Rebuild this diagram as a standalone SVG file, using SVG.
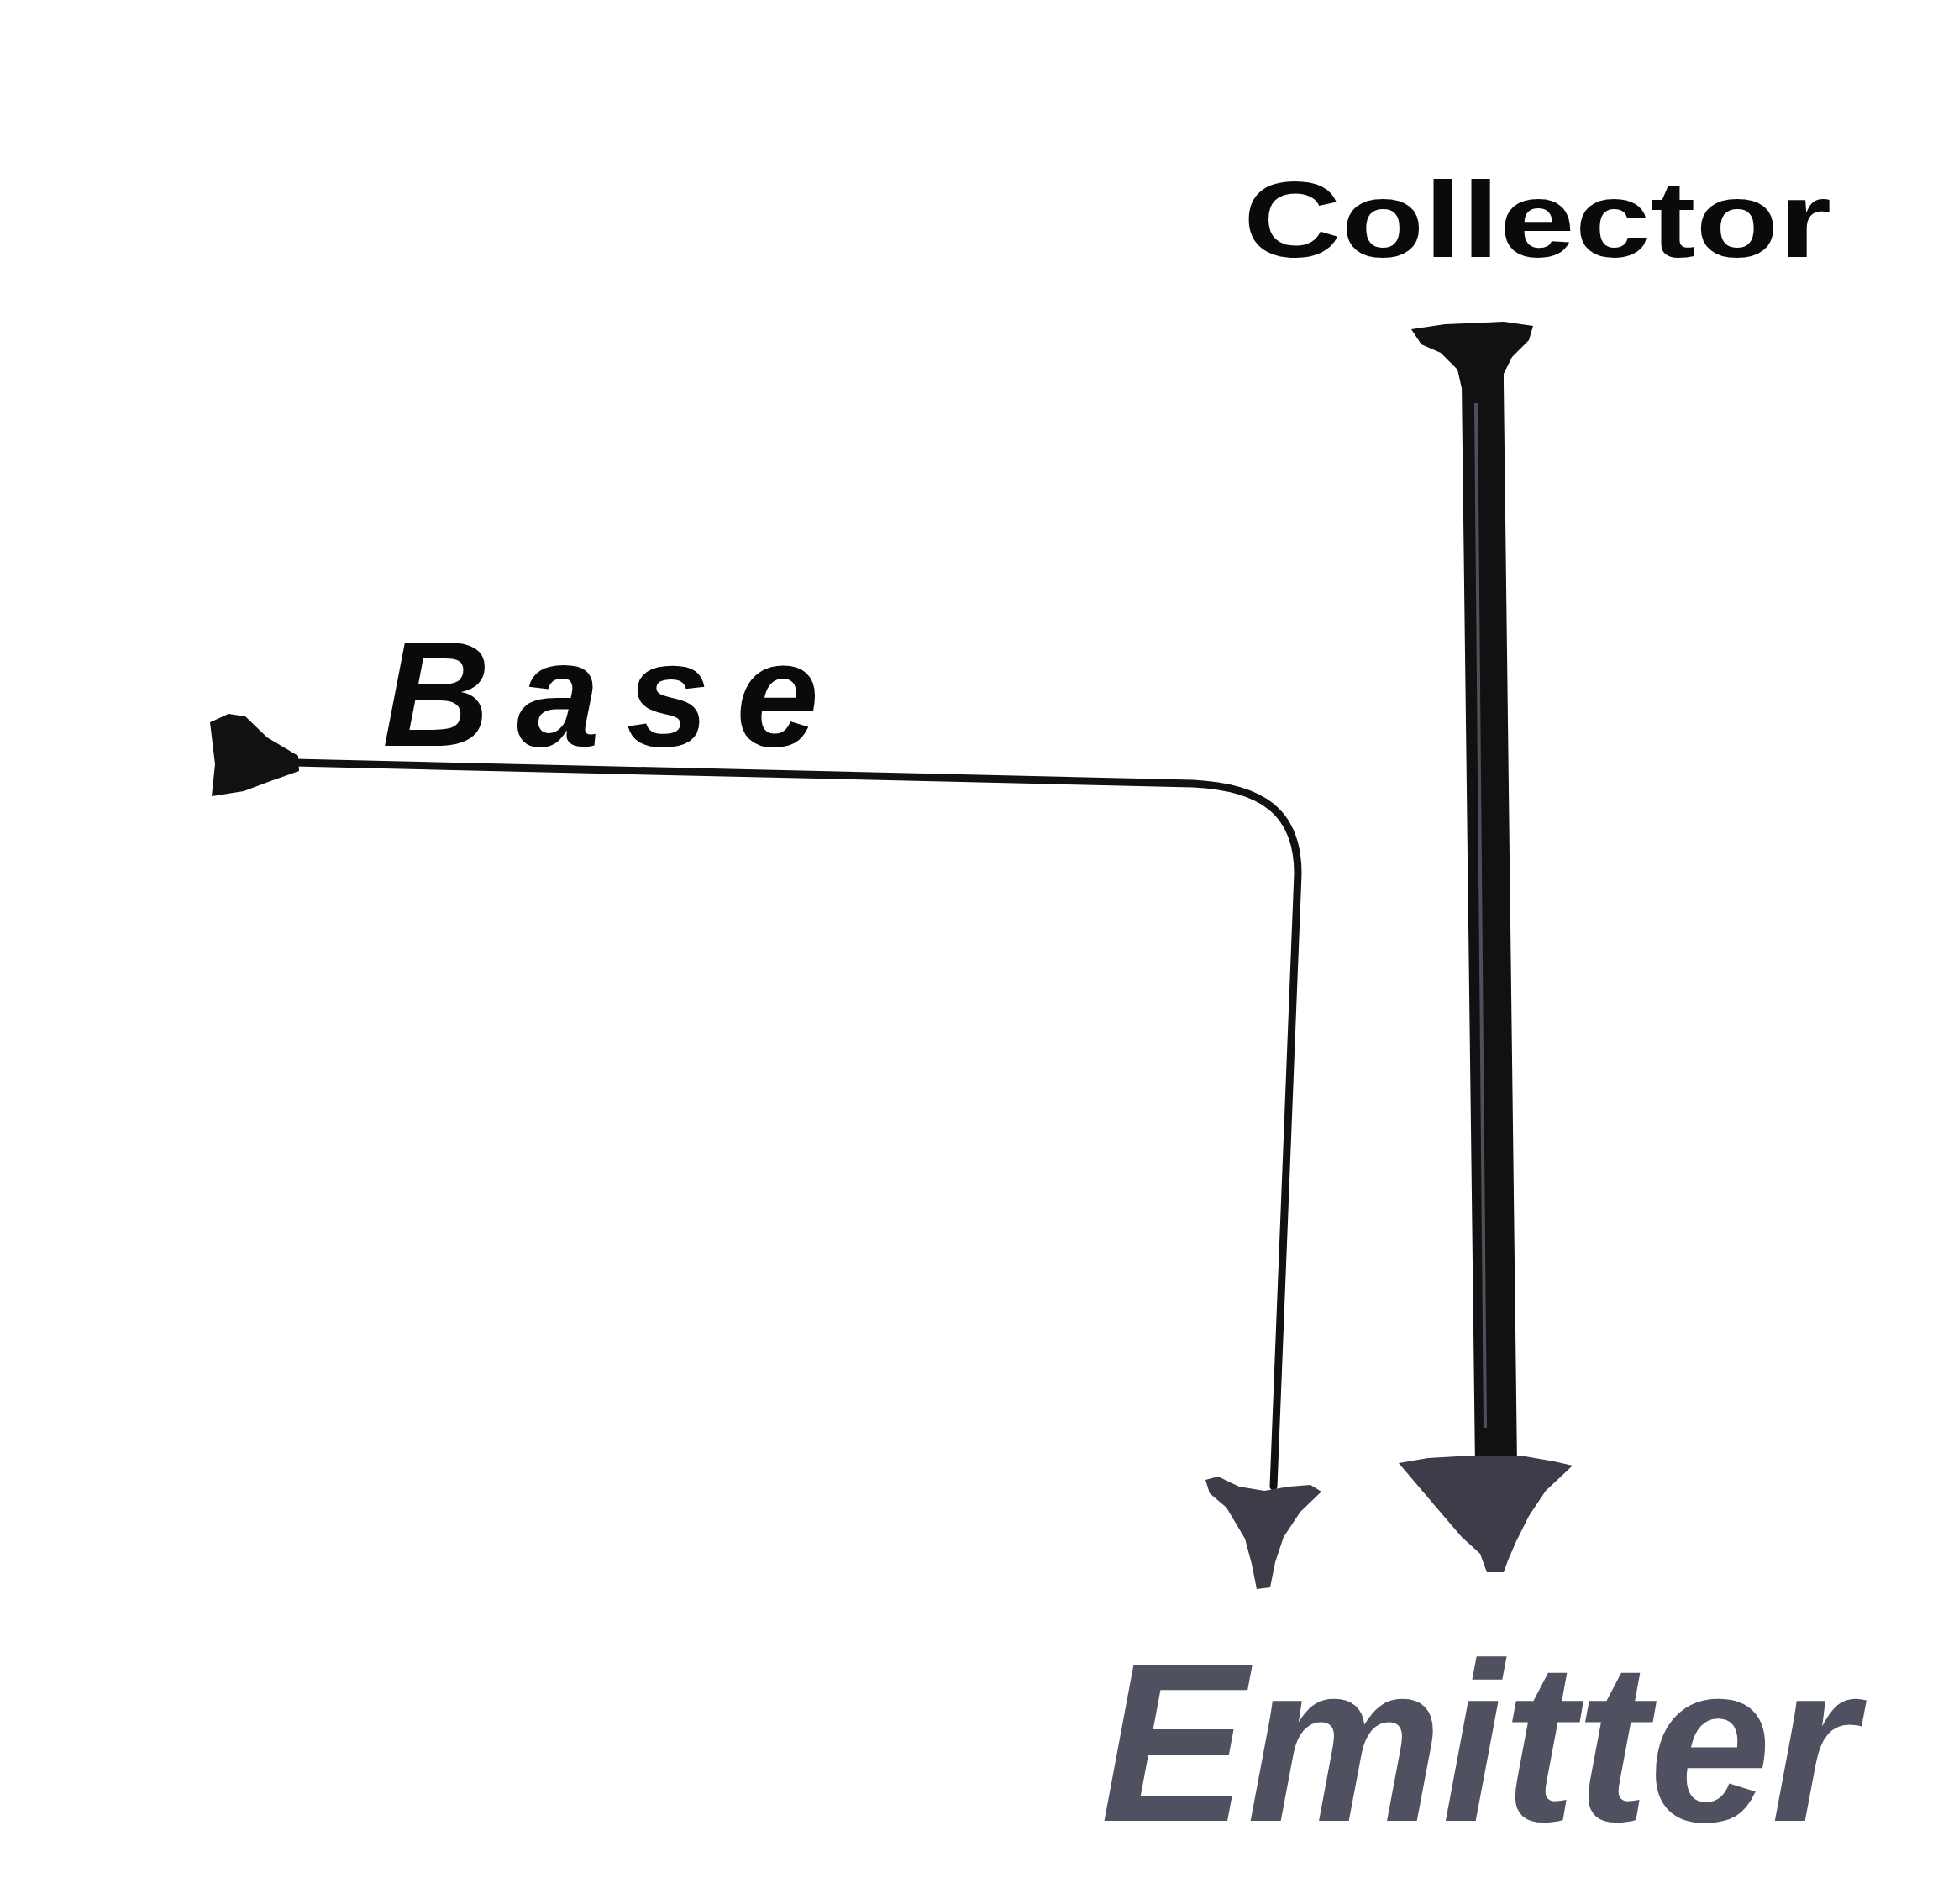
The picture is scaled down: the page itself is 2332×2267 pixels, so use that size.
<svg xmlns="http://www.w3.org/2000/svg" width="2332" height="2267" viewBox="0 0 2332 2267">
<style>
.lbl{font-family:"Liberation Sans",Arial,sans-serif;font-weight:bold;fill:#0a0a0a}
.emit{font-family:"Liberation Sans",Arial,sans-serif;font-weight:bold;fill:#4f5060}
.wire{fill:none;stroke:#111;stroke-linecap:round;stroke-linejoin:round}
.head{fill:#111}
.ghead{fill:#3c3d48}
</style>
<rect width="2332" height="2267" fill="#ffffff"/>
<g id="connectors">
  <g id="collector-emitter">
    <path class="head" d="M1680,392 L1720,386 L1790,383 L1825,388 L1820,405 L1800,425 L1790,445 L1790,462 L1740,462 L1735,440 L1715,420 L1692,410 Z"/>
    <path class="wire" d="M1765,455 L1781,1745" stroke-width="50" stroke-linecap="butt"/>
    <path d="M1757,480 L1768,1700" stroke="#7a7a90" stroke-width="4" fill="none" opacity="0.6"/>
    <path class="ghead" d="M1665,1742 L1700,1736 L1752,1733 L1810,1733 L1850,1740 L1872,1745 L1840,1775 L1820,1805 L1805,1835 L1795,1858 L1790,1872 L1770,1872 L1762,1850 L1740,1830 L1710,1795 Z"/>
  </g>
  <g id="base-emitter">
    <path class="head" d="M250,860 L272,850 L292,853 L318,878 L355,900 L356,918 L322,930 L290,942 L252,948 L256,910 Z"/>
    <path class="wire" d="M350,908 L1420,933 C1500,937 1545,965 1545,1040 L1516,1770" stroke-width="9"/>
    <path class="ghead" d="M1435,1762 L1450,1758 L1475,1770 L1505,1775 L1535,1770 L1560,1768 L1573,1776 L1548,1800 L1528,1830 L1518,1860 L1512,1890 L1496,1892 L1490,1862 L1482,1832 L1460,1795 L1440,1778 Z"/>
  </g>
</g>
<g id="node-collector">
  <text class="lbl" x="1480" y="306" font-size="128" textLength="700" lengthAdjust="spacingAndGlyphs">Collector</text>
</g>
<g id="node-base">
  <text class="lbl" x="455" y="888" font-size="178" font-style="italic" textLength="520" lengthAdjust="spacing">Base</text>
</g>
<g id="node-emitter">
  <text class="emit" x="1310" y="2168" font-size="270" font-style="italic" textLength="900" lengthAdjust="spacingAndGlyphs">Emitter</text>
</g>
</svg>
